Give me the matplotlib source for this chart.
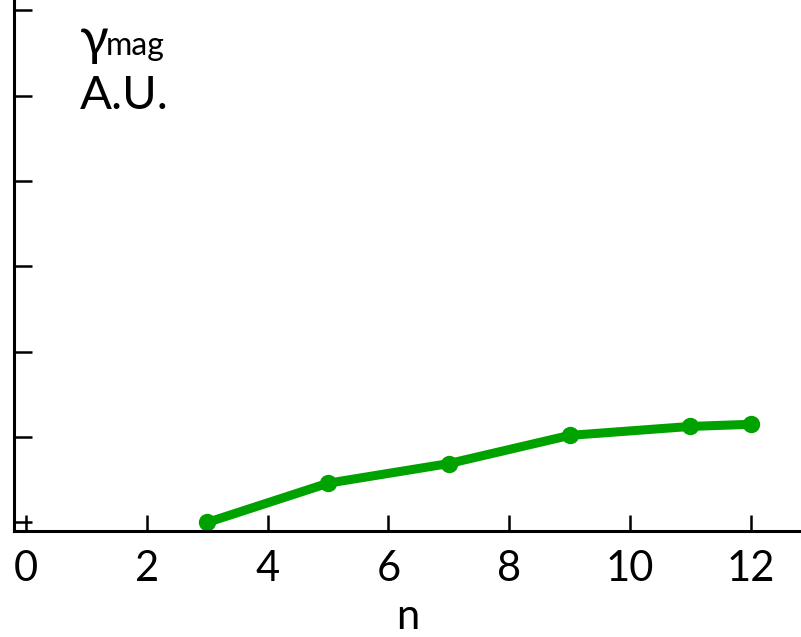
import matplotlib
matplotlib.use('Agg')
import matplotlib.pyplot as plt

plt.rcParams['font.family'] = ['Lato', 'DejaVu Sans']

# data
n_vals = [3, 5, 7, 9, 11, 12]
gamma_mag = [0.0, 0.46, 0.69, 1.02, 1.125, 1.15]
x_ticks = [0, 2, 4, 6, 8, 10, 12]
y_ticks = [0, 1, 2, 3, 4, 5, 6]

fig = plt.figure(figsize=(8.01, 6.37), dpi=100)
ax = fig.add_axes([14/801, 106/637, 1 - 14/801, 531/637])

ax.plot(n_vals, gamma_mag, '-o', color='#00a200', lw=6.5, ms=11.5)

ax.set_xlim(-0.2, 12.83)
ax.set_ylim(-0.1, 6.12)
ax.set_xticks(x_ticks)
ax.set_yticks(y_ticks)
ax.set_yticklabels([])
ax.tick_params(direction='in', length=11.5, width=1.8, labelsize=30, pad=14)
ax.tick_params(axis='y', length=13)

for s in ['top', 'right']:
    ax.spines[s].set_visible(False)
for s in ['left', 'bottom']:
    ax.spines[s].set_linewidth(2.2)

ax.set_xlabel('n', fontsize=30, labelpad=7)

fig.text(80/801, 1 - 41/637, 'γ', fontsize=38, va='center', ha='left')
fig.text(106/801, 1 - 46/637, 'mag', fontsize=23, va='center', ha='left')
fig.text(80/801, 1 - 96/637, 'A.U.', fontsize=34, va='center', ha='left')

fig.savefig('out.png', dpi=100)
